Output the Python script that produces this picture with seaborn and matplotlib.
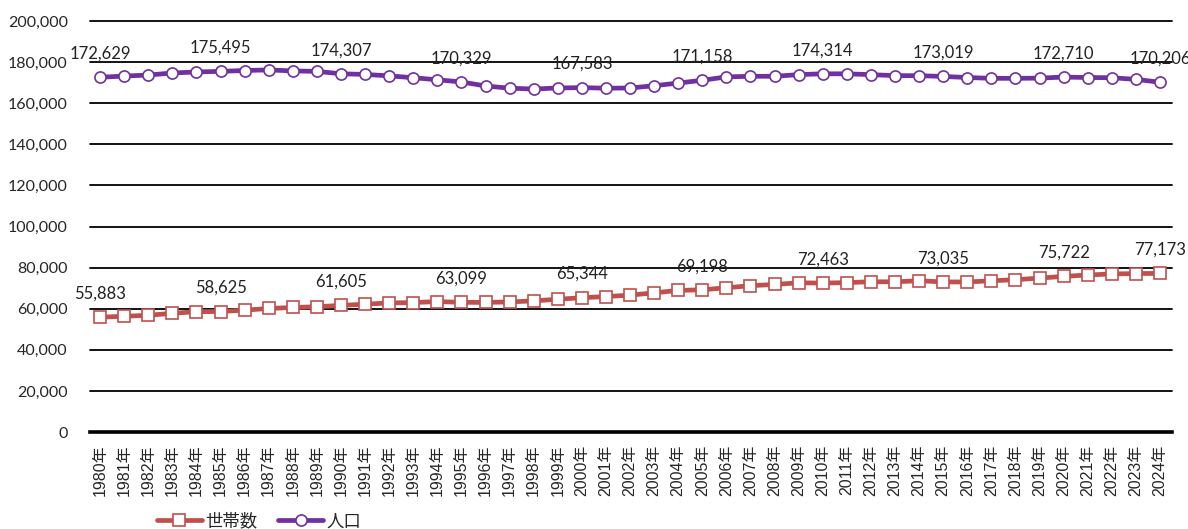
import matplotlib
matplotlib.use("Agg")
import matplotlib.pyplot as plt
import pandas as pd
import seaborn as sns
from matplotlib.lines import Line2D
from matplotlib.ticker import FuncFormatter, MultipleLocator

# 年次データ（1980年〜2024年）
years = list(range(1980, 2025))
year_labels = [f"{y}年" for y in years]

households = [
    55883, 56300, 56800, 57760, 58550, 58625, 59300, 60100, 60600, 60950,
    61605, 62200, 62800, 63000, 63450, 63099, 63050, 63300, 63800, 64600,
    65344, 65900, 66600, 67700, 68900, 69198, 70200, 71200, 71800, 72600,
    72463, 72700, 73100, 73100, 73600, 73035, 73000, 73600, 74100, 74900,
    75722, 76400, 76900, 77100, 77173,
]
population = [
    172629, 173200, 173700, 174700, 175200, 175495, 175900, 176200, 175700, 175500,
    174307, 174000, 173300, 172400, 171400, 170329, 168400, 167300, 166900, 167400,
    167583, 167300, 167400, 168500, 169800, 171158, 172800, 173100, 173100, 173900,
    174314, 174300, 173900, 173400, 173400, 173019, 172500, 172100, 172100, 172200,
    172710, 172500, 172400, 171600, 170206,
]
series_names = ["世帯数", "人口"]
series_colors = ["#C0504D", "#7030A0"]
series_markers = ["s", "o"]
labeled_years = [1980, 1985, 1990, 1995, 2000, 2005, 2010, 2015, 2020, 2024]

sns.set_style("white")
plt.rcParams["font.family"] = ["Lato", "Noto Sans CJK JP", "DejaVu Sans"]

pos = list(range(len(years)))
frames = {
    "世帯数": pd.DataFrame({"pos": pos, "value": households}),
    "人口": pd.DataFrame({"pos": pos, "value": population}),
}

fig = plt.figure(figsize=(11.88, 5.29), dpi=100)
ax = fig.add_axes([90 / 1188, 1 - 432 / 529, (1172 - 90) / 1188, (432 - 21) / 529])

handles = []
for name, color, marker in zip(series_names, series_colors, series_markers):
    df = frames[name]
    sns.lineplot(
        data=df, x="pos", y="value", ax=ax, color=color, lw=3.4,
        marker=marker, markersize=8, markerfacecolor="white",
        markeredgecolor=color, markeredgewidth=1.2, legend=False, zorder=3,
    )
    for yr in labeled_years:
        i = years.index(yr)
        v = df["value"].iloc[i]
        ax.annotate(f"{v:,}", (i, v), xytext=(0, 17), textcoords="offset points",
                    ha="center", va="center", fontsize=12, color="#222222",
                    annotation_clip=False, zorder=4)
    handles.append(Line2D([], [], color=color, lw=3.4, marker=marker, markersize=8,
                          markerfacecolor="white", markeredgecolor=color,
                          markeredgewidth=1.2))

ax.set_ylim(0, 200000)
ax.set_xlim(-0.42, len(years) - 1 + 0.5)
ax.yaxis.set_major_locator(MultipleLocator(20000))
ax.yaxis.set_major_formatter(FuncFormatter(lambda v, _: f"{int(v):,}"))
ax.yaxis.grid(True, color="black", lw=1.3)
for gl in ax.get_ygridlines():
    gl.set_clip_on(False)
ax.set_axisbelow(True)

for side in ["top", "right", "left"]:
    ax.spines[side].set_visible(False)
ax.spines["bottom"].set_color("black")
ax.spines["bottom"].set_linewidth(2.6)

ax.set_xticks(pos)
ax.set_xticklabels(year_labels, rotation=90, fontsize=11.5,
                   family=["Liberation Sans", "Noto Sans CJK JP"])
ax.tick_params(axis="x", length=0, pad=9)
ax.tick_params(axis="y", length=0, pad=16, labelsize=11.5)
ax.set_xlabel("")
ax.set_ylabel("")

fig.legend(handles, series_names, loc="center", bbox_to_anchor=(259 / 1188, 0.015),
           ncol=2, frameon=False, fontsize=12.5, handlelength=2.6,
           columnspacing=1.2, handletextpad=0.2)

fig.savefig("out.png", dpi=100)
